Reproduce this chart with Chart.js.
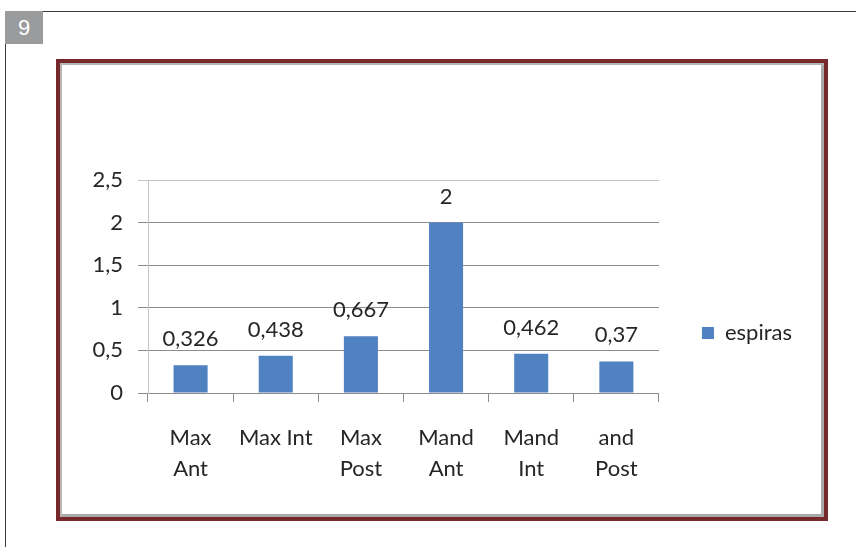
<!DOCTYPE html>
<html>
<head>
<meta charset="utf-8">
<script src="https://cdn.jsdelivr.net/npm/chart.js@4/dist/chart.umd.min.js"></script>
<style>
  html, body { margin: 0; padding: 0; background: #fff; }
  #page { position: relative; width: 856px; height: 547px; overflow: hidden; }
  #outer { position: absolute; left: 5px; top: 11px; width: 900px; height: 600px;
           border-top: 1px solid #3a3a3a; border-left: 1px solid #3a3a3a; }
  #num { position: absolute; left: 5px; top: 11px; width: 38px; height: 33px;
         background: #9a9b9d; color: #fff; font: 22px "Liberation Sans", Arial, sans-serif;
         display: flex; align-items: center; justify-content: center; }
  #frame { position: absolute; left: 56px; top: 59px; width: 764px; height: 454px;
           border: 4px solid #77282a; box-shadow: inset 2px 2px 0 #b4b4b4, inset -3px -3px 0 #a9a9a9; }
  canvas { position: absolute; left: 0; top: 0; }
</style>
</head>
<body>
<div id="page">
  <div id="outer"></div>
  <div id="num">9</div>
  <div id="frame"></div>
  <canvas id="c" width="856" height="547"></canvas>
</div>
<script>
// Categories (two-line axis labels), values and axis ticks
const categories = [["Max", "Ant"], ["Max Int"], ["Max", "Post"], ["Mand", "Ant"], ["Mand", "Int"], ["and", "Post"]];
const espiras = [0.326, 0.438, 0.667, 2, 0.462, 0.37];
const seriesName = "espiras";
const yTicks = [0, 0.5, 1, 1.5, 2, 2.5];

const FONT = "Lato, 'Open Sans', sans-serif";
const decimal = v => String(v).replace(".", ",");

// Writes each bar's value above it, with a decimal comma
const valueLabels = {
  id: "valueLabels",
  afterDatasetsDraw(chart) {
    const ctx = chart.ctx;
    const meta = chart.getDatasetMeta(0);
    ctx.save();
    ctx.font = "22px " + FONT;
    ctx.fillStyle = "#262626";
    ctx.textAlign = "center";
    ctx.textBaseline = "alphabetic";
    meta.data.forEach((bar, i) => {
      ctx.fillText(decimal(chart.data.datasets[0].data[i]), bar.x, bar.y - 19);
    });
    ctx.restore();
  }
};

new Chart(document.getElementById("c"), {
  type: "bar",
  data: {
    labels: categories,
    datasets: [{
      label: seriesName,
      data: espiras,
      backgroundColor: "#5082c2",
      borderWidth: 0,
      barPercentage: 0.4,
      categoryPercentage: 1
    }]
  },
  options: {
    responsive: false,
    animation: false,
    layout: { padding: { top: 180, bottom: 61, left: 60, right: 54 } },
    plugins: {
      tooltip: { enabled: false },
      legend: {
        position: "right",
        labels: {
          boxWidth: 12,
          boxHeight: 12,
          padding: 43,
          color: "#262626",
          font: { family: FONT, size: 22 }
        }
      }
    },
    scales: {
      x: {
        offset: true,
        grid: { offset: true, drawOnChartArea: false, drawTicks: true, tickLength: 9, color: "#8c8c8c" },
        border: { color: "#8c8c8c" },
        ticks: {
          color: "#262626",
          padding: 20,
          maxRotation: 0,
          autoSkip: false,
          font: { family: FONT, size: 22, lineHeight: 1.41 }
        },
        afterFit(scale) { scale.height = 93; }
      },
      y: {
        min: 0,
        max: 2.5,
        afterBuildTicks(scale) { scale.ticks = yTicks.map(v => ({ value: v })); },
        grid: {
          drawTicks: true,
          tickLength: 10,
          color: ctx => (ctx.tick && ctx.tick.value === 2.5 ? "#c2c2c2" : "#8c8c8c")
        },
        border: { color: "#c4c4c4" },
        ticks: {
          color: "#262626",
          padding: 15,
          font: { family: FONT, size: 22 },
          callback: v => decimal(v)
        },
        afterFit(scale) { scale.width = 88; }
      }
    }
  },
  plugins: [valueLabels]
});
</script>
</body>
</html>
